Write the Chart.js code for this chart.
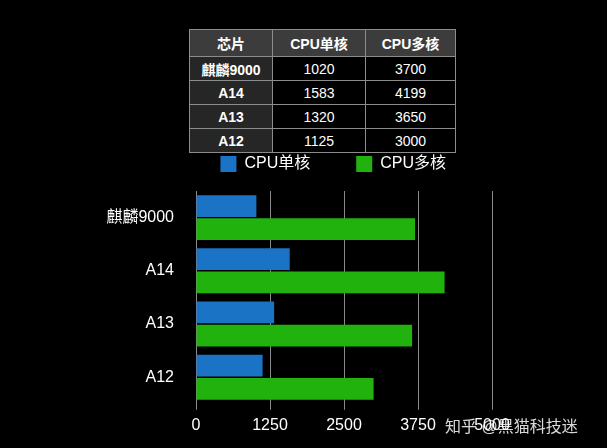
<!DOCTYPE html>
<html>
<head>
<meta charset="utf-8">
<script src="https://cdn.jsdelivr.net/npm/chart.js@4/dist/chart.umd.min.js"></script>
<style>
body{margin:0;background:#000;width:607px;height:448px;overflow:hidden;position:relative;font-family:"Liberation Sans","Noto Sans CJK SC",sans-serif;}
canvas{position:absolute;left:0;top:0;}
#spec{position:absolute;left:189px;top:29px;border-collapse:collapse;color:#fff;font-size:14px;font-weight:bold;}
#spec td{border:1px solid #8c8c8c;text-align:center;height:23px;padding:0;}
#spec tr.head td{background:#3c3c3c;height:26px;}
#spec td.name{background:#262626;}
#spec td.num{font-weight:normal;}
#mark{position:absolute;left:445px;top:413px;color:rgba(255,255,255,0.85);font-size:16px;white-space:pre;}
</style>
</head>
<body>
<table id="spec"></table>
<canvas id="chart" width="607" height="448"></canvas>
<div id="mark">知乎 @黑猫科技迷</div>
<script>
const chips = ["麒麟9000", "A14", "A13", "A12"];
const singleCore = [1020, 1583, 1320, 1125];
const multiCore = [3700, 4199, 3650, 3000];
const seriesNames = ["CPU单核", "CPU多核"];
const tableHead = ["芯片", "CPU单核", "CPU多核"];
const xTicks = [0, 1250, 2500, 3750, 5000];

const fontFamily = "'Liberation Sans', 'Noto Sans CJK SC', sans-serif";
const colWidths = [82, 92, 89];

// table above the chart
let html = "<tr class='head'>" + tableHead.map((t, i) => `<td style="width:${colWidths[i]}px">${t}</td>`).join("") + "</tr>";
chips.forEach((c, i) => {
    html += `<tr><td class="name">${c}</td><td class="num">${singleCore[i]}</td><td class="num">${multiCore[i]}</td></tr>`;
});
document.getElementById("spec").innerHTML = html;

new Chart("chart", {
    type: "bar",
    data: {
        labels: chips,
        datasets: [{
            label: seriesNames[0],
            data: singleCore,
            backgroundColor: "#1a73c4",
            categoryPercentage: 0.87,
            barPercentage: 0.94
        }, {
            label: seriesNames[1],
            data: multiCore,
            backgroundColor: "#22b20e",
            categoryPercentage: 0.87,
            barPercentage: 0.94
        }]
    },
    options: {
        indexAxis: "y",
        responsive: false,
        animation: false,
        layout: {padding: {top: 110, right: 115, bottom: 7, left: 0}},
        plugins: {
            legend: {
                align: "end",
                labels: {color: "#fff", font: {size: 16, family: fontFamily}, boxWidth: 16, boxHeight: 16, padding: 46}
            },
            tooltip: {enabled: false}
        },
        scales: {
            x: {
                min: 0,
                max: 5000,
                afterBuildTicks: (s) => { s.ticks = xTicks.map(v => ({value: v})) },
                ticks: {color: "#fff", font: {size: 16, family: fontFamily}, padding: 6, callback: (v) => String(v)},
                grid: {color: "#8a8a8a", tickLength: 6},
                border: {display: false}
            },
            // spacer between legend and bars
            x2: {
                type: "linear",
                position: "top",
                grid: {display: false},
                ticks: {display: false},
                border: {display: false},
                afterFit: (s) => { s.height = 9 }
            },
            y: {
                ticks: {color: "#fff", font: {size: 16, family: fontFamily}, padding: 14},
                grid: {display: false},
                border: {display: false},
                afterFit: (s) => { s.width = 196 }
            }
        }
    }
});
</script>
</body>
</html>
